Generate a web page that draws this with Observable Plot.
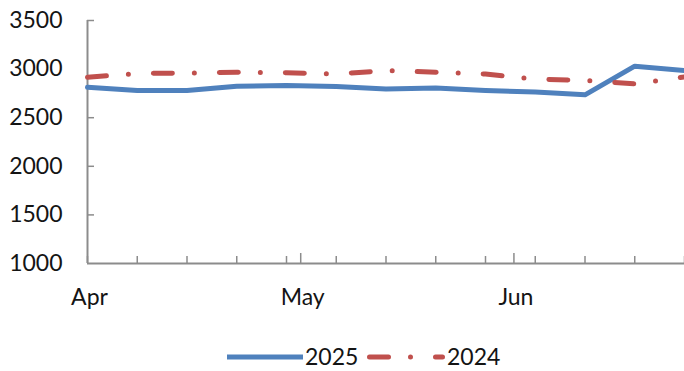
<!DOCTYPE html>
<html>
<head>
<meta charset="utf-8">
<script src="https://cdn.jsdelivr.net/npm/d3@7"></script>
<script src="https://cdn.jsdelivr.net/npm/@observablehq/plot@0.6"></script>
<style>
  html, body { margin: 0; padding: 0; background: #fff; }
  #wrap { position: relative; width: 684px; height: 371px; font-family: Lato, "Open Sans", sans-serif; }
  #legend { position: absolute; left: 0; top: 318px; width: 684px; height: 53px; }
</style>
</head>
<body>
<div id="wrap">
  <div id="chart"></div>
  <svg id="legend" width="684" height="53"></svg>
</div>
<script>
// ---- data ----
const weeks = ["2025-04-01","2025-04-08","2025-04-15","2025-04-22","2025-04-29","2025-05-06","2025-05-13","2025-05-20","2025-05-27","2025-06-03","2025-06-10","2025-06-17","2025-06-24"];
const values2025 = [2813, 2779, 2779, 2823, 2830, 2820, 2795, 2805, 2780, 2765, 2735, 3030, 2985];
const values2024 = [2916, 2955, 2960, 2967, 2962, 2950, 2985, 2968, 2950, 2895, 2885, 2848, 2920];
const seriesNames = ["2025", "2024"];
const yTickValues = [1000, 1500, 2000, 2500, 3000, 3500];
const yInnerTicks = [1500, 2000, 2500, 3500];
const monthTicks = ["2025-04-01", "2025-05-01", "2025-05-31"];
const monthLabels = ["Apr", "May", "Jun"];

// ---- build ----
const parse = d3.utcParse("%Y-%m-%d");
const dates = weeks.map(parse);
const months = monthTicks.map(parse);
const rows2025 = dates.map((d, i) => ({date: d, value: values2025[i]}));
const rows2024 = dates.map((d, i) => ({date: d, value: values2024[i]}));

const blue = "#4F81BD", red = "#C0504D", axisGray = "#8c8c8c", textColor = "#141414";
const dash = "19,22,0,25";
const font = "Lato, 'Open Sans', sans-serif";
const fs = 23;

const chart = Plot.plot({
  width: 684,
  height: 318,
  marginLeft: 87,
  marginRight: 0,
  marginTop: 20,
  marginBottom: 55,
  style: {fontFamily: font, fontSize: fs + "px", color: textColor, background: "#fff", overflow: "visible"},
  x: {type: "utc", domain: [dates[0], dates[dates.length - 1]], label: null},
  y: {domain: [1000, 3500], label: null},
  marks: [
    Plot.axisY(yTickValues, {tickSize: 0, tickPadding: 25, tickFormat: "d", fontSize: fs, fill: textColor, label: null}),
    Plot.axisY(yInnerTicks, {tickSize: 7, dx: 7, text: null, stroke: axisGray, strokeWidth: 1.5, label: null}),
    Plot.axisX(dates, {tickSize: 7, dy: -7, text: null, stroke: axisGray, strokeWidth: 1.5, label: null}),
    Plot.axisX(months.slice(1), {tickSize: 10, dy: -10, text: null, stroke: axisGray, strokeWidth: 1.5, label: null}),
    Plot.axisX(months, {tickSize: 0, tickPadding: 25, dx: 2, tickFormat: (d, i) => monthLabels[i], fontSize: fs, fill: textColor, label: null}),
    Plot.ruleX([dates[0]], {stroke: axisGray, strokeWidth: 2}),
    Plot.ruleY([1000], {stroke: axisGray, strokeWidth: 2}),
    Plot.line(rows2025, {x: "date", y: "value", stroke: blue, strokeWidth: 5, strokeLinejoin: "round"}),
    Plot.line(rows2024, {x: "date", y: "value", stroke: red, strokeWidth: 5, strokeDasharray: dash, strokeLinecap: "round", strokeLinejoin: "round"})
  ]
});
document.getElementById("chart").appendChild(chart);

// ---- legend ----
const lg = d3.select("#legend");
const cy = 39;
lg.append("line").attr("x1", 227).attr("x2", 303).attr("y1", cy).attr("y2", cy)
  .attr("stroke", blue).attr("stroke-width", 5);
lg.append("text").attr("x", 305).attr("y", cy).attr("dy", "0.35em")
  .attr("font-family", font).attr("font-size", fs).attr("fill", textColor).text(seriesNames[0]);
lg.append("line").attr("x1", 369.5).attr("x2", 442.5).attr("y1", cy).attr("y2", cy)
  .attr("stroke", red).attr("stroke-width", 5).attr("stroke-dasharray", dash).attr("stroke-linecap", "round");
lg.append("text").attr("x", 447).attr("y", cy).attr("dy", "0.35em")
  .attr("font-family", font).attr("font-size", fs).attr("fill", textColor).text(seriesNames[1]);
</script>
</body>
</html>
